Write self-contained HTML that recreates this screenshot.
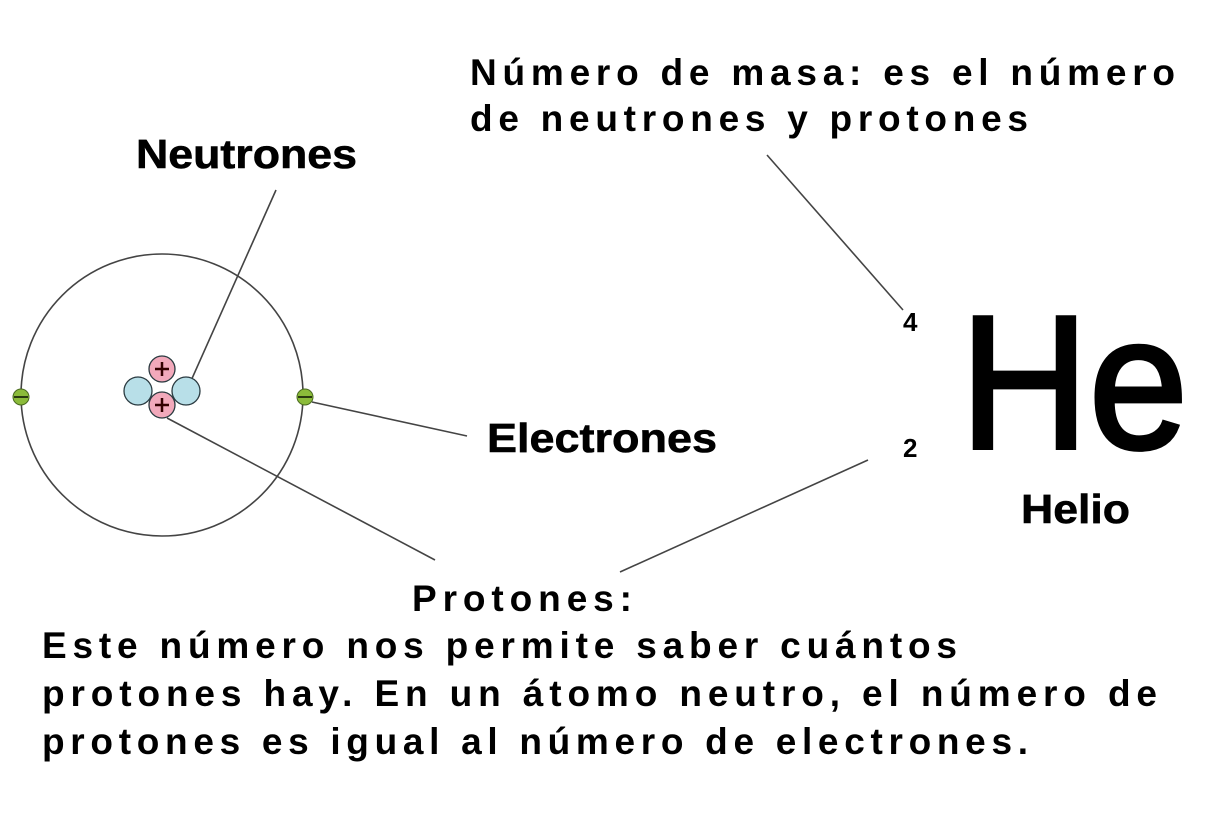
<!DOCTYPE html>
<html><head><meta charset="utf-8"><style>html,body{margin:0;padding:0;background:#fff}svg{display:block}</style></head>
<body>
<svg width="1205" height="828" viewBox="0 0 1205 828" xmlns="http://www.w3.org/2000/svg">
<rect width="1205" height="828" fill="#fff"/>
<g stroke="#444" stroke-width="1.6" fill="none">
<circle cx="162" cy="395" r="141"/>
<line x1="276" y1="190" x2="190" y2="383"/>
<line x1="312" y1="402" x2="467" y2="436"/>
<line x1="167" y1="418" x2="435" y2="560"/>
<line x1="767" y1="155" x2="903" y2="310"/>
<line x1="868" y1="460" x2="620" y2="572"/>
</g>
<g stroke="#2a3a40" stroke-width="1.3">
<circle cx="138" cy="391" r="14" fill="#b8dfe8"/>
<circle cx="186" cy="391" r="14" fill="#b8dfe8"/>
<circle cx="162" cy="369" r="13" fill="#f2a9bb"/>
<circle cx="162" cy="405" r="13" fill="#f2a9bb"/>
</g>
<g stroke="#300" stroke-width="2.5">
<line x1="155" y1="369" x2="169" y2="369"/><line x1="162" y1="362" x2="162" y2="376"/>
<line x1="155" y1="405" x2="169" y2="405"/><line x1="162" y1="398" x2="162" y2="412"/>
</g>
<g fill="#8bbb3a" stroke="#4a6a20" stroke-width="1">
<circle cx="21" cy="397" r="8"/><circle cx="305" cy="397" r="8"/>
</g>
<g stroke="#2a3a10" stroke-width="2"><line x1="14" y1="397" x2="28" y2="397"/><line x1="298" y1="397" x2="312" y2="397"/></g>
<g font-family="Liberation Sans, sans-serif" font-weight="bold" fill="#000">
<text x="136" y="168" font-size="41" textLength="221" lengthAdjust="spacingAndGlyphs" stroke="#000" stroke-width="0.6">Neutrones</text>
<text x="487" y="452" font-size="41" textLength="230" lengthAdjust="spacingAndGlyphs" stroke="#000" stroke-width="0.6">Electrones</text>
<text x="1021" y="523" font-size="41" textLength="109" lengthAdjust="spacingAndGlyphs" stroke="#000" stroke-width="0.6">Helio</text>
<text x="903" y="331" font-size="26">4</text>
<text x="903" y="457" font-size="26">2</text>
<text x="470" y="85" font-size="37" textLength="705" lengthAdjust="spacing">Número de masa: es el número</text>
<text x="470" y="131" font-size="37" textLength="558" lengthAdjust="spacing">de neutrones y protones</text>
<text x="412" y="611" font-size="37" textLength="220" lengthAdjust="spacing">Protones:</text>
<text x="42" y="658" font-size="37" textLength="915" lengthAdjust="spacing">Este número nos permite saber cuántos</text>
<text x="42" y="706" font-size="37" textLength="1115" lengthAdjust="spacing">protones hay. En un átomo neutro, el número de</text>
<text x="42" y="754" font-size="37" textLength="986" lengthAdjust="spacing">protones es igual al número de electrones.</text>
</g>
<text x="960" y="448" font-family="Liberation Sans, sans-serif" font-size="190" fill="#000" stroke="#000" stroke-width="4" textLength="228" lengthAdjust="spacingAndGlyphs">He</text>
</svg>
</body></html>
